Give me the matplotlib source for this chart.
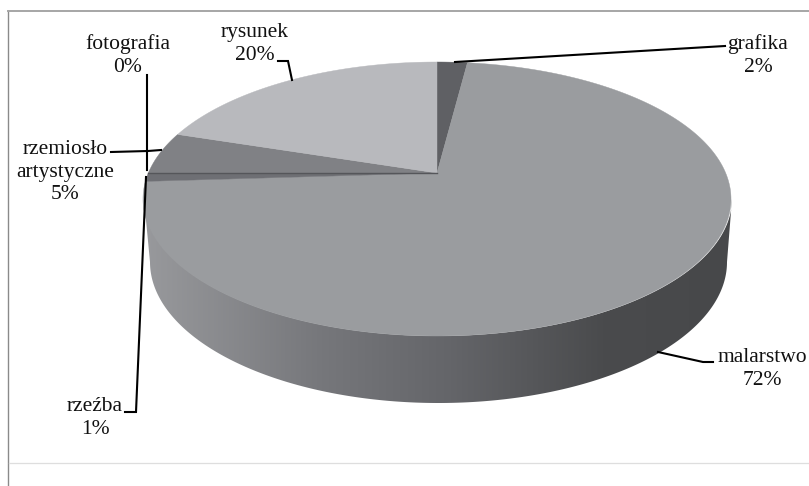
# -*- coding: utf-8 -*-
#%%
import numpy as np
import matplotlib
matplotlib.use('Agg')
import matplotlib.pyplot as plt
from matplotlib.colors import LinearSegmentedColormap
from matplotlib.patches import Polygon

#%% dane
kategorie = ['grafika', 'malarstwo', 'rzeźba', 'fotografia', 'rzemiosło\nartystyczne', 'rysunek']
procenty = [2, 72, 1, 0, 5, 20]
kolory = ['#5f6064', '#9a9c9f', '#6e6f74', '#55565a', '#808185', '#b8b9bd']

# srodek podpisu i linia odniesienia kazdej kategorii
podpisy_xy = [(758, 56), (762, 369), (95, 418), (128, 56), (65, 172), (255, 44)]
linie_xy = [
    [(725, 46), (455, 62)],
    [(658, 352), (703, 362), (713, 362)],
    [(146, 177), (136, 412), (125, 412)],
    [(147, 75), (147, 170)],
    [(111, 152), (148, 151), (161, 150)],
    [(278, 61), (288, 61), (292, 80)],
]

#%% geometria kola w perspektywie
cx, cy = 437, 173
y_tyl, y_przod = 62, 336
szer = 294


def rzut(t):
    # t - kat mierzony od gory zgodnie z zegarem, kolo rzutowane na elipse
    x = np.sin(t)
    y = -np.cos(t)
    c = (2 * cy - y_tyl - y_przod) / (y_przod - y_tyl)
    a = y_przod * (1 + c) - cy
    k = szer * np.sqrt(1 - c ** 2)
    mian = 1 + c * y
    return cx + k * x / mian, (a * y + cy) / mian


#%% rysunek
plt.rcParams['font.family'] = ['Liberation Serif', 'DejaVu Serif']
fig = plt.figure(figsize=(8.09, 4.86), dpi=100, facecolor='white')
ax = fig.add_axes([0, 0, 1, 1])

# bok walca: gorna elipsa + przesunieta dolna, wypelnione gradientem
t = np.linspace(0, 2 * np.pi, 721)
ex = 438 + szer * np.cos(t[:361])
ey = 199 + 137 * np.sin(t[:361])
dx = 438.5 + 288.5 * np.cos(t[:361])
dy = 262 + 141 * np.sin(t[:361])
bok = np.vstack([np.column_stack([dx, dy]), np.column_stack([ex, ey])[::-1]])

stopnie = [(0.0, '#98999c'), (0.3, '#76777b'), (0.52, '#646569'), (0.78, '#4a4b4d'), (1.0, '#47484a')]
cmap = LinearSegmentedColormap.from_list('bok', stopnie)
gradient = np.linspace(0, 1, 256).reshape(1, -1)
im = ax.imshow(gradient, cmap=cmap, extent=(145, 733, 410, 190), aspect='auto', zorder=1)
im.set_clip_path(Polygon(bok, closed=True, transform=ax.transData))

# wycinki na gornej powierzchni
granice = np.cumsum([0] + procenty) / 100 * 2 * np.pi
for i, proc in enumerate(procenty):
    if proc == 0:
        continue
    kat = np.linspace(granice[i], granice[i + 1], max(int(proc * 8), 12))
    xs, ys = rzut(kat)
    ax.fill(np.r_[cx, xs], np.r_[cy, ys], color=kolory[i], lw=0.3, zorder=2)

# cienka ciemna linia dla wycinka 0%
xf, yf = rzut(granice[3])
ax.plot([cx, xf], [cy, yf], color=kolory[3], lw=1.0, zorder=3)

# linie odniesienia i podpisy
for nazwa, proc, xy, linia in zip(kategorie, procenty, podpisy_xy, linie_xy):
    lx, ly = zip(*linia)
    ax.plot(lx, ly, color='black', lw=1.5, solid_joinstyle='miter', zorder=4)
    ax.text(xy[0], xy[1], f'{nazwa}\n{proc}%', ha='center', va='center', fontsize=15.5,
            color='#111111', linespacing=1.28, zorder=5)

# ramka
ax.plot([8.5, 8.5], [11, 486], color='#8a8a8a', lw=1.0, zorder=1)
ax.plot([8, 809], [11, 11], color='#a6a6a6', lw=1.4, zorder=1)
ax.plot([9, 809], [463, 463], color='#dedede', lw=0.9, zorder=1)

ax.set_xlim(0, 809)
ax.set_ylim(486, 0)
ax.axis('off')

fig.savefig('out.png', dpi=100, facecolor='white')
